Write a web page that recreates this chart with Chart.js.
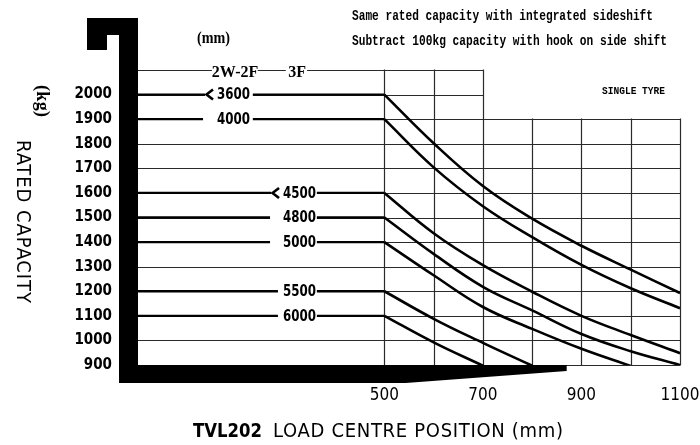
<!DOCTYPE html>
<html><head><meta charset="utf-8">
<script src="https://cdn.jsdelivr.net/npm/chart.js@4/dist/chart.umd.min.js"></script>
<style>html,body{margin:0;padding:0;background:#fff;}canvas{display:block;}</style>
</head><body>
<canvas id="c" width="700" height="445"></canvas>
<script>
// ---------- data ----------
const loadCentres = [500, 600, 700, 800, 900, 1000, 1100];
const liftHeights = ['3600', '4000', '4500', '4800', '5000', '5500', '6000'];
const cap3600 = [2000, 1802, 1628, 1495, 1385, 1288, 1193];
const cap4000 = [1900, 1704, 1546, 1420, 1307, 1212, 1131];
const cap4500 = [1600, 1436, 1306, 1198, 1100, 1022, 948];
const cap4800 = [1500, 1352, 1218, 1122, 1026, 956, 900];
const cap5000 = [1400, 1265, 1136, 1047, 966, 896];
const cap5500 = [1200, 1088, 990, 897];
const cap6000 = [1100, 992, 897];
const xTickLabels = [500, 700, 900, 1100];
const yTickLabels = [900, 1000, 1100, 1200, 1300, 1400, 1500, 1600, 1700, 1800, 1900, 2000];
const mastTypes = ['2W-2F', '3F'];
const notes = ['Same rated capacity with integrated sideshift', 'Subtract 100kg capacity with hook on side shift'];
const tyreNote = 'SINGLE TYRE';
const xTitleBold = 'TVL202';
const xTitleRest = 'LOAD CENTRE POSITION (mm)';
const yTitle = 'RATED CAPACITY';
const yUnit = '(kg)';
const heightUnit = '(mm)';

const seriesValues = [cap3600, cap4000, cap4500, cap4800, cap5000, cap5500, cap6000];

// ---------- styles ----------
const NARROW = "'Liberation Sans Narrow','DejaVu Sans Condensed','Arial Narrow',sans-serif";
const MONO = "'Liberation Mono','DejaVu Sans Mono',monospace";
const SERIF = "'Liberation Serif','DejaVu Serif',serif";

const datasets = [];
seriesValues.forEach((vals, i) => {
  datasets.push({
    label: liftHeights[i] + ' flat',
    data: [{x: 0, y: vals[0]}, {x: loadCentres[0], y: vals[0]}],
    borderColor: '#000', borderWidth: 2.4, pointRadius: 0, tension: 0, clip: 0
  });
  datasets.push({
    label: liftHeights[i],
    data: vals.map((v, j) => ({x: loadCentres[j], y: v})),
    borderColor: '#000', borderWidth: 2.6, pointRadius: 0,
    tension: 0.4, clip: 0
  });
});

// label placement (in load-centre units along the left decorative band)
const labelSpec = {
  '3600': {gap: [136, 233], text: 194, arrow: true},
  '4000': {gap: [132, 233], text: 194, arrow: false},
  '4500': {gap: [270, 363], text: 328, arrow: true},
  '4800': {gap: [268, 363], text: 328, arrow: false},
  '5000': {gap: [268, 363], text: 328, arrow: false},
  '5500': {gap: [284, 363], text: 328, arrow: false},
  '6000': {gap: [284, 363], text: 328, arrow: false}
};
const mastSpec = [{gap: [150, 243], text: 197}, {gap: [300, 343], text: 323}];

function fitText(ctx, str, left, y, target) {
  if ('letterSpacing' in ctx) ctx.letterSpacing = '0px';
  const w = ctx.measureText(str).width;
  if (w < target && str.length > 1 && 'letterSpacing' in ctx) {
    const ls = (target - w) / (str.length - 1);
    ctx.letterSpacing = ls + 'px';
    ctx.fillText(str, left, y);
    ctx.letterSpacing = '0px';
  } else {
    ctx.fillText(str, left, y, target);
  }
}

const figPlugin = {
  id: 'fig',
  beforeDatasetsDraw(chart) {
    const {ctx, scales: {x, y}} = chart;
    ctx.save();
    ctx.strokeStyle = '#2a2a2a';
    ctx.lineWidth = 1.2;
    ctx.beginPath();
    for (let v = 900; v <= 2100; v += 100) {
      const end = v >= 2000 ? 700 : 1100;
      const py = Math.round(y.getPixelForValue(v)) + 0.5;
      ctx.moveTo(x.getPixelForValue(0), py);
      ctx.lineTo(x.getPixelForValue(end) + 0.6, py);
    }
    for (let c = 500; c <= 1100; c += 100) {
      const top = c <= 700 ? 2100 : 1900;
      const px = Math.round(x.getPixelForValue(c)) + 0.5;
      ctx.moveTo(px, y.getPixelForValue(top) - 0.6);
      ctx.lineTo(px, y.getPixelForValue(900));
    }
    ctx.stroke();
    ctx.restore();
  },
  afterDatasetsDraw(chart) {
    const {ctx, chartArea, scales: {x, y}} = chart;
    const L = chartArea.left, T = chartArea.top, B = y.getPixelForValue(900);
    ctx.save();
    // mast and fork
    ctx.fillStyle = '#000';
    ctx.fillRect(L - 19, T - 52, 19, B + 18 - (T - 52));
    ctx.fillRect(L - 51, T - 52, 51, 17);
    ctx.fillRect(L - 51, T - 35, 20, 15);
    ctx.beginPath();
    ctx.moveTo(L - 19, B);
    ctx.lineTo(x.getPixelForValue(870), B);
    ctx.lineTo(x.getPixelForValue(870), B + 6);
    ctx.lineTo(x.getPixelForValue(543), B + 18);
    ctx.lineTo(L - 19, B + 18);
    ctx.closePath();
    ctx.fill();

    // lift height labels
    ctx.textBaseline = 'middle';
    ctx.textAlign = 'center';
    liftHeights.forEach((h, i) => {
      const s = labelSpec[h];
      const py = y.getPixelForValue(seriesValues[i][0]);
      const g0 = x.getPixelForValue(s.gap[0]), g1 = x.getPixelForValue(s.gap[1]);
      ctx.fillStyle = '#fff';
      ctx.fillRect(g0, py - 4, g1 - g0, 8);
      ctx.fillStyle = '#000';
      ctx.font = 'bold 15px ' + NARROW;
      ctx.fillText(h, x.getPixelForValue(s.text), py + 1, 33);
      if (s.arrow) {
        ctx.beginPath();
        ctx.lineWidth = 2.6;
        ctx.strokeStyle = '#000';
        ctx.moveTo(g0 + 8, py - 5);
        ctx.lineTo(g0 + 1.5, py);
        ctx.lineTo(g0 + 8, py + 5);
        ctx.stroke();
      }
    });
    // mast type labels on top line
    const ty = Math.round(y.getPixelForValue(2100)) + 0.5;
    mastTypes.forEach((m, i) => {
      const s = mastSpec[i];
      const g0 = x.getPixelForValue(s.gap[0]), g1 = x.getPixelForValue(s.gap[1]);
      ctx.fillStyle = '#fff';
      ctx.fillRect(g0, ty - 3, g1 - g0, 6);
      ctx.fillStyle = '#000';
      ctx.font = 'bold 16px ' + SERIF;
      ctx.fillText(m, x.getPixelForValue(s.text), ty + 2);
    });
    ctx.restore();
  },
  afterDraw(chart) {
    const {ctx} = chart;
    ctx.save();
    ctx.fillStyle = '#000';
    ctx.textBaseline = 'middle';
    ctx.textAlign = 'left';
    ctx.font = 'bold 14px ' + MONO;
    fitText(ctx, notes[0], 352, 16, 301);
    fitText(ctx, notes[1], 352, 41.5, 315);
    ctx.font = 'bold 11px ' + MONO;
    fitText(ctx, tyreNote, 602, 91, 63);
    ctx.font = 'bold 17px ' + SERIF;
    fitText(ctx, heightUnit, 197, 39, 33);
    // x title
    ctx.font = 'bold 20px ' + NARROW;
    fitText(ctx, xTitleBold, 193, 432, 69);
    ctx.font = '20px ' + NARROW;
    fitText(ctx, xTitleRest, 273, 432, 290);
    // y title rotated clockwise
    ctx.save();
    ctx.translate(22, 140);
    ctx.rotate(Math.PI / 2);
    ctx.font = '20px ' + NARROW;
    fitText(ctx, yTitle, 0, 0, 163);
    ctx.restore();
    ctx.save();
    ctx.translate(42, 85);
    ctx.rotate(Math.PI / 2);
    ctx.font = 'bold 18px ' + SERIF;
    fitText(ctx, yUnit, 0, 0, 32);
    ctx.restore();
    ctx.restore();
  }
};

new Chart(document.getElementById('c'), {
  type: 'line',
  data: {datasets},
  options: {
    responsive: false,
    devicePixelRatio: 1,
    animation: false,
    events: [],
    layout: {padding: {top: 70, right: 20, left: 0, bottom: 0}},
    plugins: {legend: {display: false}, tooltip: {enabled: false}, title: {display: false}},
    scales: {
      x: {
        type: 'linear', min: 0, max: 1100,
        grid: {display: false, drawTicks: false},
        border: {display: false},
        ticks: {
          stepSize: 100, autoSkip: false, maxRotation: 0, minRotation: 0,
          padding: 20, color: '#000',
          font: {family: NARROW, size: 17},
          callback: v => xTickLabels.includes(v) ? String(v) : ''
        },
        afterFit: s => { s.height = 80; s.paddingLeft = 0; s.paddingRight = 0; }
      },
      y: {
        type: 'linear', min: 900, max: 2100,
        grid: {display: false, drawTicks: false},
        border: {display: false},
        ticks: {
          stepSize: 100, autoSkip: false, padding: 26, color: '#000',
          font: {family: NARROW, size: 15, weight: 'bold'},
          callback: v => yTickLabels.includes(v) ? String(v) : ''
        },
        afterFit: s => { s.width = 138; s.paddingTop = 0; s.paddingBottom = 0; }
      }
    }
  },
  plugins: [figPlugin]
});
</script>
</body></html>
